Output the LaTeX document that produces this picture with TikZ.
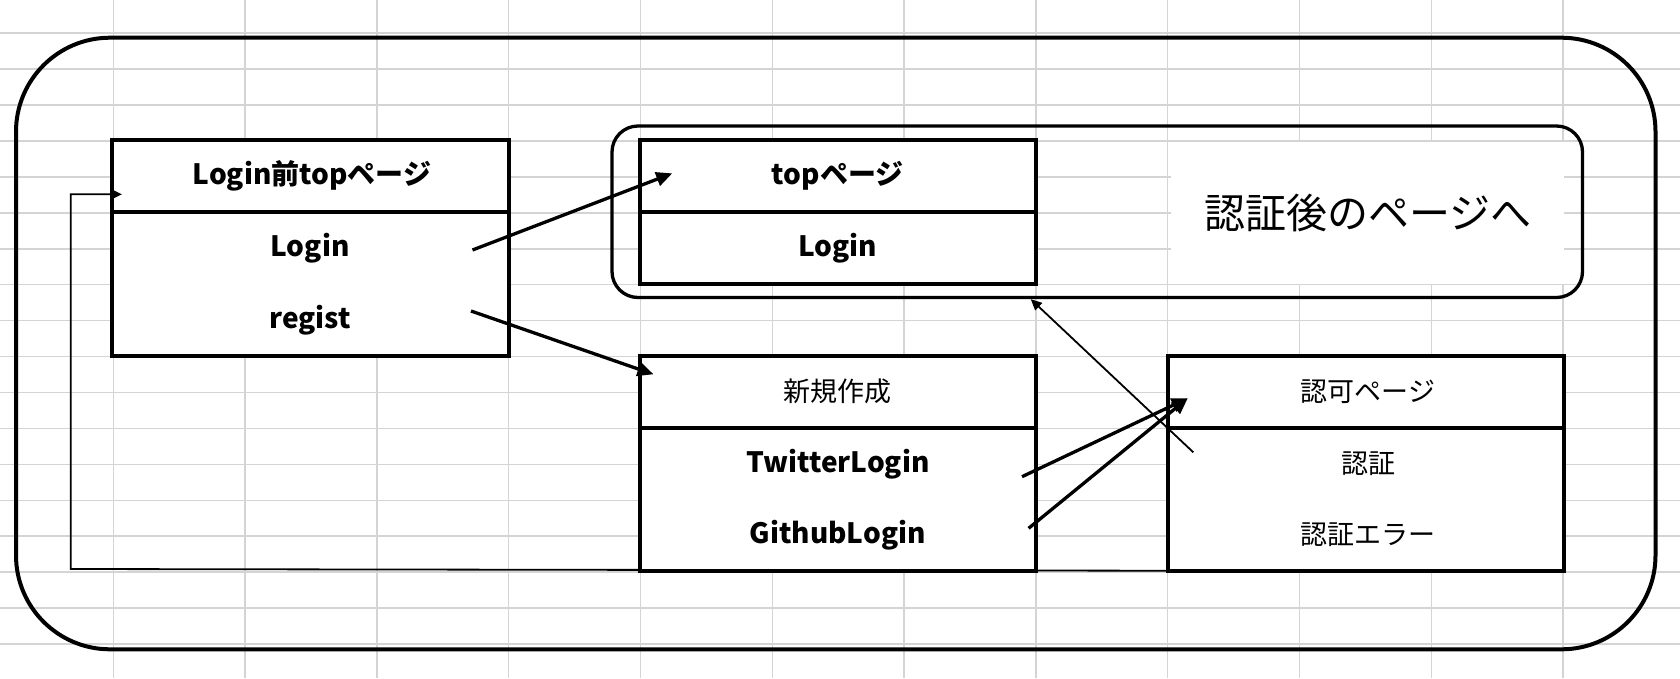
\documentclass[tikz,border=0pt]{standalone}
\usepackage{fontspec}
\setmainfont{Noto Sans CJK JP}
\usetikzlibrary{arrows.meta,calc}
\definecolor{gridc}{RGB}{212,212,212}
\begin{document}
\begin{tikzpicture}[x=1pt,y=-1pt,
  gridline/.style={draw=gridc,line width=1.5pt},
  frame/.style={draw=black,line width=4pt},
  grpbox/.style={draw=black,line width=3.3pt,rounded corners=26pt,minimum width=970.5pt,minimum height=171.5pt,inner sep=0pt},
  cell/.style={draw=black,fill=white,line width=4pt,inner sep=0pt,minimum width=397pt},
  lbl/.style={font=\fontsize{28}{32}\selectfont\bfseries,inner sep=0pt},
  mlbl/.style={font=\fontsize{27}{31}\selectfont,inner sep=0pt},
  biglbl/.style={font=\fontsize{41}{46}\selectfont,inner sep=0pt},
  thickarrow/.style={line width=3.3pt,-{Triangle[length=16pt,width=14pt]}},
  thinarrow/.style={line width=1.8pt,-{Triangle[length=11pt,width=10pt]}},
]
\useasboundingbox (0,0) rectangle (1680,678);
% spreadsheet grid
\foreach \k in {0,...,11} \draw[gridline] ({113.3+131.8*\k},0) -- ({113.3+131.8*\k},678);
\foreach \k in {0,...,17} \draw[gridline] (0,{33.2+35.93*\k}) -- (1680,{33.2+35.93*\k});
% white text area
\fill[white] (1171,142) rectangle (1563.5,284);
% outer frame
\draw[frame,rounded corners=94pt] (16,37.7) rectangle (1655.5,649.3);
% group after login
\node[grpbox] (grp) at (1097.25,211.75) {};
\node[biglbl] (after) at (1368,213) {認証後のページへ};
% box 1
\node[cell,minimum height=71.7pt] (b1h) at (310,175.85) {};
\node[cell,minimum height=143.8pt] (b1b) at (310,283.6) {};
\node[lbl] (b1title) at (312,176) {Login前topページ};
\node[lbl] (b1login) at (310,248) {Login};
\node[lbl] (b1regist) at (310,320) {regist};
% box 2
\node[cell,minimum width=396.5pt,minimum height=71.7pt] (b2h) at (837.75,175.85) {};
\node[cell,minimum width=396.5pt,minimum height=72.3pt] (b2b) at (837.75,247.85) {};
\node[lbl] (b2title) at (837.75,176) {topページ};
\node[lbl] (b2login) at (837.75,248) {Login};
% box 3
\node[cell,minimum width=396.5pt,minimum height=72pt] (b3h) at (837.75,391.7) {};
\node[cell,minimum width=396.5pt,minimum height=143.3pt] (b3b) at (837.75,499.35) {};
\node[mlbl] (b3title) at (837.75,391.7) {新規作成};
\node[lbl] (b3tw) at (837.75,464) {TwitterLogin};
\node[lbl] (b3gh) at (837.75,535) {GithubLogin};
% box 4
\node[cell,minimum width=396pt,minimum height=72pt] (b4h) at (1366,391.7) {};
\node[cell,minimum width=396pt,minimum height=143.3pt] (b4b) at (1366,499.35) {};
\node[mlbl] (b4title) at (1368,391.7) {認可ページ};
\node[mlbl] (b4auth) at (1368,464) {認証};
\node[mlbl] (b4err) at (1368,535) {認証エラー};
% connectors
\draw[thickarrow] ($(b1login)+(162.5,2)$) -- ($(b2h)+(-165.5,-2.5)$);
\draw[thickarrow] ($(b1regist)+(161,-9)$) -- ($(b3h)+(-184.25,-17.4)$);
\draw[thickarrow] ($(b3tw)+(184.25,12.7)$) -- ($(b4h)+(-178.3,6.6)$);
\draw[thickarrow] ($(b3gh)+(190.85,-6.7)$) -- ($(b4h)+(-178.3,6.6)$);
\draw[thinarrow] ($(b4auth)+(-174.7,-11.7)$) -- ($(grp.south)+(-66.5,0)$);
\coordinate (fbstart) at ($(b4b.south west)+(185,-2)$);
\coordinate (fbcorner) at (70.7,569);
\draw[thinarrow] (fbstart) -- (fbcorner) |- ($(b1h.west)+(12.5,18.45)$);
\end{tikzpicture}
\end{document}
